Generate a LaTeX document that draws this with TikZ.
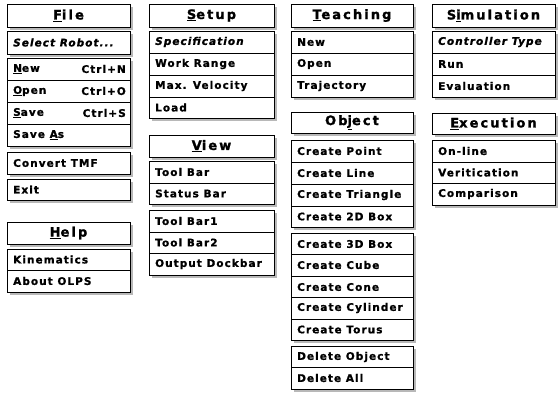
\documentclass[tikz,border=0pt]{standalone}
\usepackage{fontspec}
\newfontfamily\mf{DejaVu Sans}[LetterSpace=10,FakeBold=1.1]
\newfontfamily\hf{DejaVu Sans}[LetterSpace=16,FakeBold=1.4]
\tikzset{
  box/.style={draw=black, line width=0.8pt, fill=white},
  shad/.style={fill=black!28, draw=none},
  sepline/.style={draw=black, line width=0.7pt},
  item/.style={anchor=west, inner sep=0pt, font=\mf\bfseries\fontsize{10.5}{12}\selectfont},
  itemr/.style={item, anchor=east},
  head/.style={anchor=center, inner sep=0pt, font=\hf\bfseries\fontsize{13}{15}\selectfont},
}
\newcommand\grp[4]{\fill[shad] (#1+3,#2+3) rectangle (#3+3,#4+3); \draw[box] (#1,#2) rectangle (#3,#4);}
\newcommand\sepl[3]{\draw[sepline] (#1,#3) -- (#2,#3);}
\begin{document}
\begin{tikzpicture}[x=1pt,y=-1pt]
\useasboundingbox (0,0) rectangle (558,394);
\fill[white] (0,0) rectangle (558,394);
% ---------- Column 1: File / Help
\grp{7}{4}{130}{27}
\node[head] (file) at (68.5,15.5) {\underline{F}ile};
\grp{7}{31}{130}{54}
\node[item] (selrob) at (13,42.5) {\itshape Select Robot...};
\grp{7}{58}{130}{146}
\sepl{7}{130}{80}\sepl{7}{130}{102}\sepl{7}{130}{124}
\node[item] (fnew) at (13,69) {\underline{N}ew};
\node[itemr] (ctrln) at (126,69) {Ctrl+N};
\node[item] (fopen) at (13,91) {\underline{O}pen};
\node[itemr] (ctrlo) at (126,91) {Ctrl+O};
\node[item] (fsave) at (13,113) {\underline{S}ave};
\node[itemr] (ctrls) at (126,113) {Ctrl+S};
\node[item] (fsaveas) at (13,135) {Save \underline{A}s};
\grp{7}{152}{130}{174}
\node[item] (conv) at (13,163) {Convert TMF};
\grp{7}{179}{130}{200}
\node[item] (exit) at (13,189.5) {Exit};
\grp{7}{222}{130}{244}
\node[head] (help) at (68.5,233) {\underline{H}elp};
\grp{7}{249}{130}{292}
\sepl{7}{130}{270}
\node[item] (kin) at (13,259.5) {Kinematics};
\node[item] (about) at (13,281) {About OLPS};
% ---------- Column 2: Setup / View
\grp{149}{4}{274}{27}
\node[head] (setup) at (211.5,15.5) {\underline{S}etup};
\grp{149}{31}{274}{118}
\sepl{149}{274}{53}\sepl{149}{274}{75}\sepl{149}{274}{97}
\node[item] (spec) at (155,42) {\itshape Specification};
\node[item] (work) at (155,64) {Work Range};
\node[item] (maxv) at (155,86) {Max. Velocity};
\node[item] (load) at (155,107.5) {Load};
\grp{149}{135}{274}{157}
\node[head] (view) at (211.5,146) {\underline{V}iew};
\grp{149}{161}{274}{204}
\sepl{149}{274}{183}
\node[item] (toolbar) at (155,172) {Tool Bar};
\node[item] (statbar) at (155,193.5) {Status Bar};
\grp{149}{210}{274}{275}
\sepl{149}{274}{232}\sepl{149}{274}{253}
\node[item] (tb1) at (155,221) {Tool Bar1};
\node[item] (tb2) at (155,242.5) {Tool Bar2};
\node[item] (odock) at (155,264) {Output Dockbar};
% ---------- Column 3: Teaching / Object
\grp{291}{4}{413}{27}
\node[head] (teach) at (352,15.5) {\underline{T}eaching};
\grp{291}{31}{413}{97}
\sepl{291}{413}{53}\sepl{291}{413}{75}
\node[item] (tnew) at (297,42) {New};
\node[item] (topen) at (297,64) {Open};
\node[item] (traj) at (297,86) {Trajectory};
\grp{291}{112}{413}{133}
\node[head] (object) at (352,122.5) {Ob\underline{j}ect};
\grp{291}{140}{413}{227}
\sepl{291}{413}{162}\sepl{291}{413}{184}\sepl{291}{413}{206}
\node[item] (cpoint) at (297,151) {Create Point};
\node[item] (cline) at (297,173) {Create Line};
\node[item] (ctri) at (297,195) {Create Triangle};
\node[item] (c2d) at (297,216.5) {Create 2D Box};
\grp{291}{233}{413}{340}
\sepl{291}{413}{254.5}\sepl{291}{413}{276}\sepl{291}{413}{297.5}\sepl{291}{413}{319}
\node[item] (c3d) at (297,244) {Create 3D Box};
\node[item] (ccube) at (297,265) {Create Cube};
\node[item] (ccone) at (297,287) {Create Cone};
\node[item] (ccyl) at (297,308) {Create Cylinder};
\node[item] (ctorus) at (297,329.5) {Create Torus};
\grp{291}{346}{413}{389}
\sepl{291}{413}{367.5}
\node[item] (delobj) at (297,357) {Delete Object};
\node[item] (delall) at (297,378) {Delete All};
% ---------- Column 4: Simulation / Execution
\grp{432}{4}{555}{27}
\node[head] (sim) at (493.5,15.5) {S\underline{i}mulation};
\grp{432}{31}{555}{97}
\sepl{432}{555}{53}\sepl{432}{555}{75}
\node[item] (ctype) at (438,42) {\itshape Controller Type};
\node[item] (run) at (438,64) {Run};
\node[item] (eval) at (438,86) {Evaluation};
\grp{432}{113}{555}{134}
\node[head] (exec) at (493.5,123.5) {\underline{E}xecution};
\grp{432}{140}{555}{205}
\sepl{432}{555}{162}\sepl{432}{555}{183}
\node[item] (online) at (438,151) {On-line};
\node[item] (verit) at (438,172.5) {Veritication};
\node[item] (compar) at (438,194) {Comparison};
\end{tikzpicture}
\end{document}
